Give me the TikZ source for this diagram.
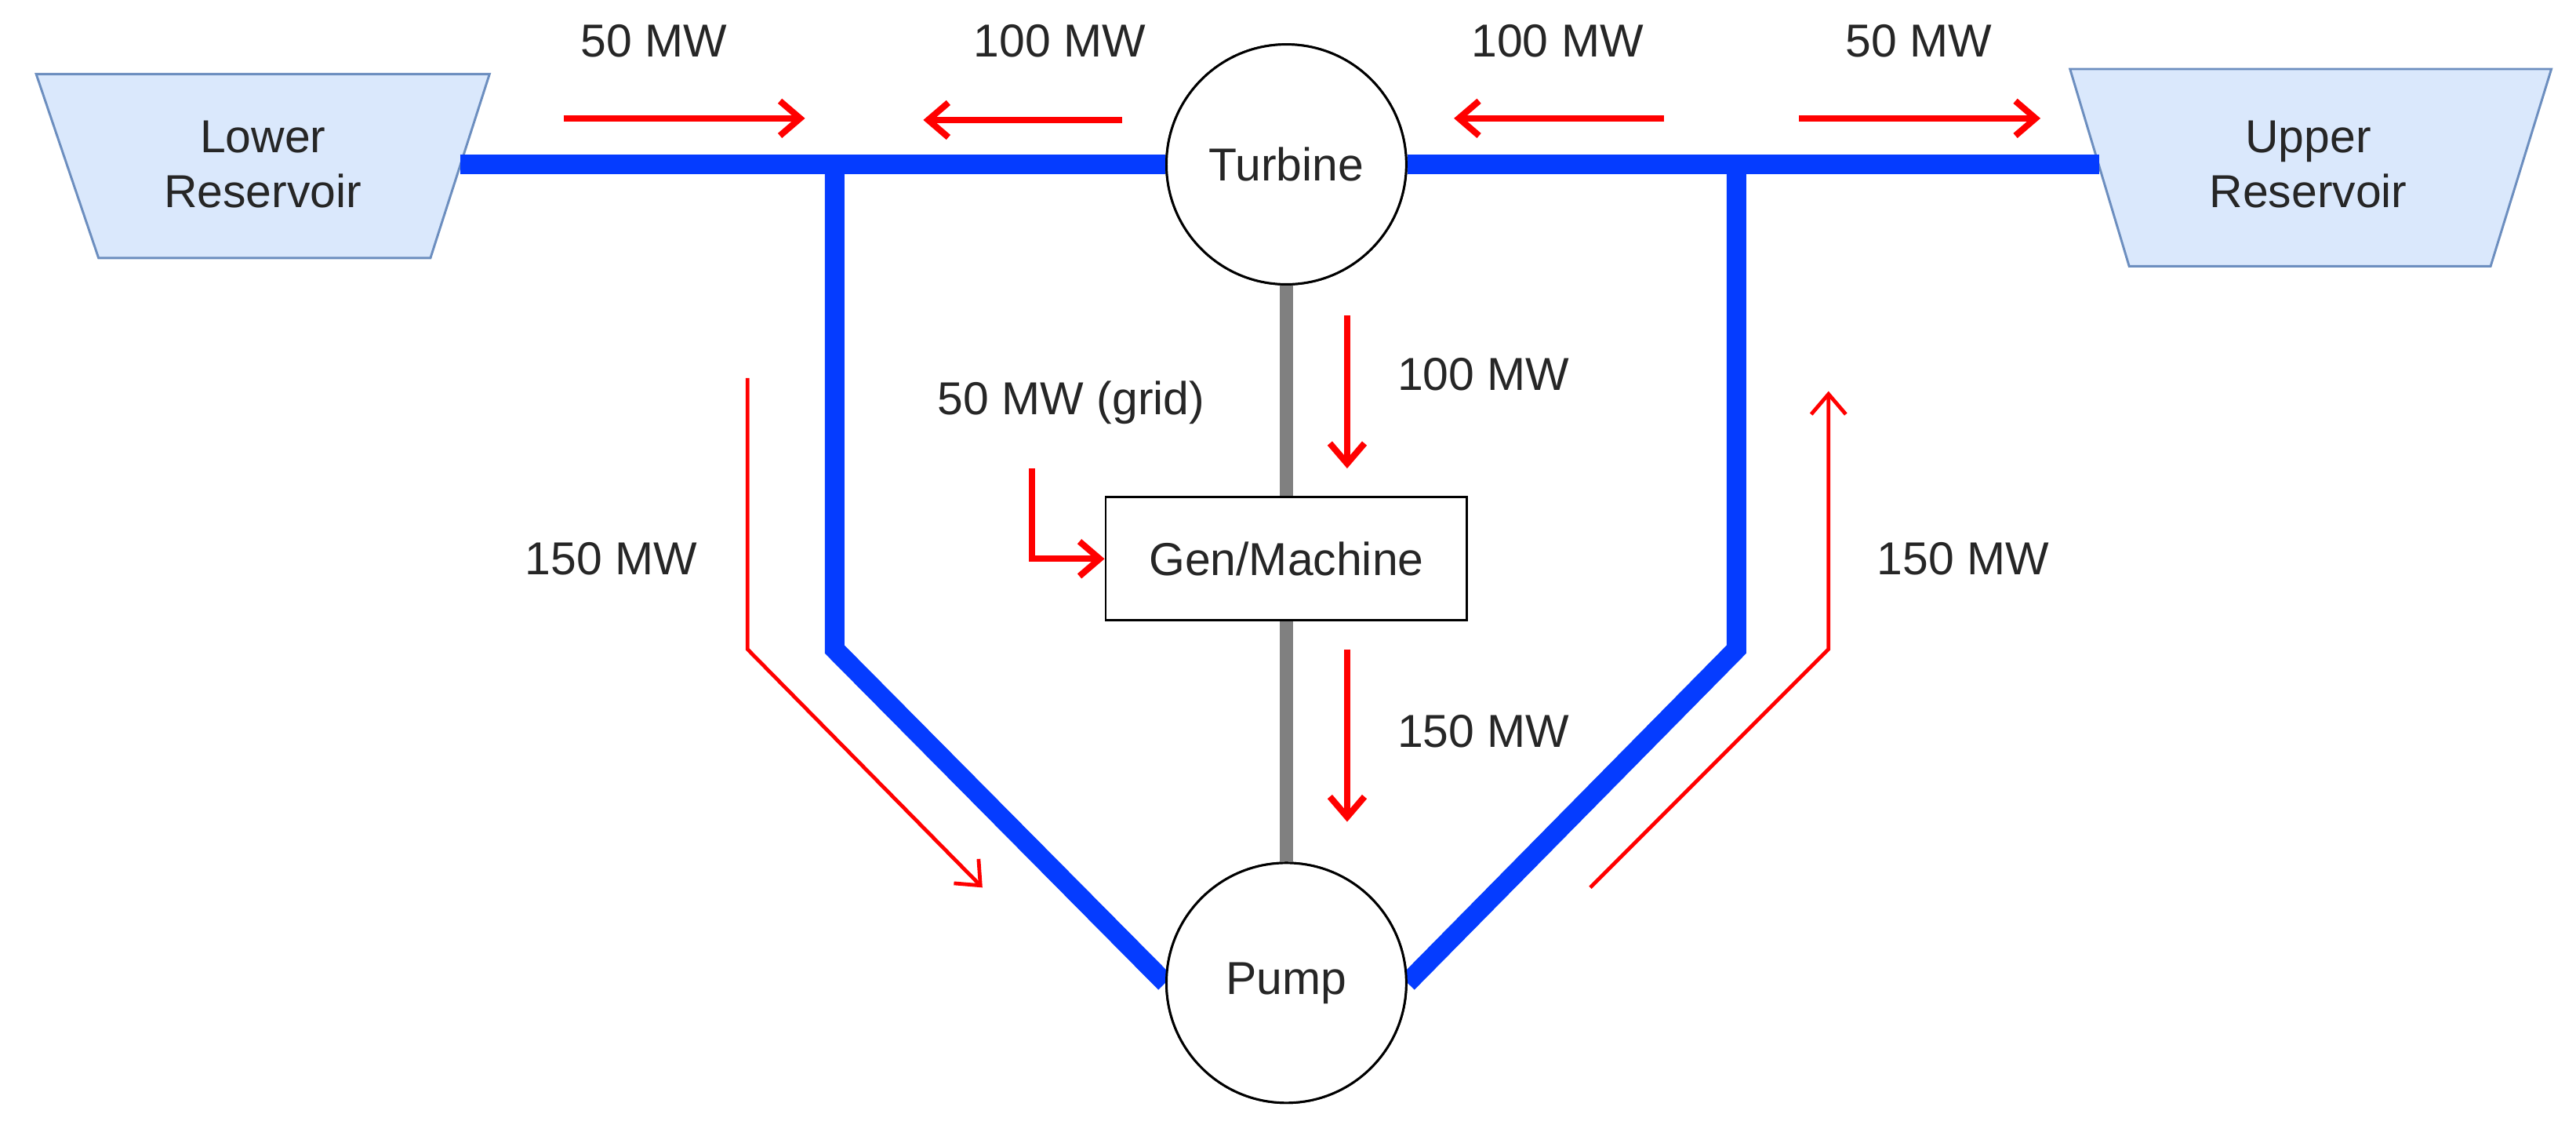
\documentclass[tikz,border=0pt]{standalone}
\usepackage{fontspec}
\setmainfont{Liberation Sans}
\usetikzlibrary{calc,arrows.meta}
\definecolor{pipe}{RGB}{5,60,255}
\definecolor{resfill}{RGB}{218,232,252}
\definecolor{resline}{RGB}{108,142,191}
\begin{document}
\begin{tikzpicture}[x=0.02cm,y=-0.02cm,
  lbl/.style={font=\fontsize{16}{19}\selectfont,text=black!85},
  pipeline/.style={pipe,line width=6.8pt},
  shaft/.style={gray,line width=4.5pt},
  flow/.style={red,line width=2.2pt,-{Straight Barb[length=7pt,width=12pt]}},
  thinflow/.style={red,line width=1.3pt,-{Straight Barb[length=7pt,width=12pt]}},
  mach/.style={circle,draw,thick,fill=white,minimum size=2.92cm,inner sep=0pt}]
\useasboundingbox (0,0) rectangle (1568,684);

% reservoirs
\draw[resline,fill=resfill,thick] (22,45) -- (298,45) -- (262,157) -- (60,157) -- cycle;
\node[lbl,align=center] (lower) at (160,100) {Lower\\Reservoir};
\draw[resline,fill=resfill,thick] (1260,42) -- (1553,42) -- (1516,162) -- (1296,162) -- cycle;
\node[lbl,align=center] (upper) at (1405,100) {Upper\\Reservoir};

% junctions
\coordinate (lj) at (508,100);
\coordinate (lk) at (508,395);
\coordinate (rj) at (1057,100);
\coordinate (rk) at (1057,395);
\coordinate (lend) at (280,100);
\coordinate (rend) at (1278,100);

% pipes
\node[mach] (turb) at (783,100) {};
\node[mach] (pump) at (783,598) {};
\draw[pipeline] (lend) -- (turb.west);
\draw[pipeline] (turb.east) -- (rend);
\draw[pipeline] (lj) -- (lk) -- (pump.west);
\draw[pipeline] (rj) -- (rk) -- (pump.east);
\draw[shaft] (turb.south) -- (pump.north);

\node[mach,lbl] at (turb) {Turbine};
\node[mach,lbl] at (pump) {Pump};
\node[lbl,draw,thick,fill=white,minimum width=4.4cm,minimum height=1.5cm] (gen) at (783,340) {Gen/Machine};

% flows along top pipe
\coordinate (a1) at (343,72); \coordinate (a2) at (490,72);
\coordinate (b1) at (683,73); \coordinate (b2) at (562,73);
\coordinate (c1) at (1013,72); \coordinate (c2) at (885,72);
\coordinate (d1) at (1095,72); \coordinate (d2) at (1242,72);
\draw[flow] (a1) -- (a2);
\draw[flow] (b1) -- (b2);
\draw[flow] (c1) -- (c2);
\draw[flow] (d1) -- (d2);
\node[lbl] (ta) at (398,25) {50 MW};
\node[lbl] (tb) at (645,25) {100 MW};
\node[lbl] (tc) at (948,25) {100 MW};
\node[lbl] (td) at (1168,25) {50 MW};

% shaft flows
\coordinate (e1) at (820,192); \coordinate (e2) at (820,285);
\coordinate (f1) at (820,395); \coordinate (f2) at (820,500);
\draw[flow] (e1) -- (e2);
\draw[flow] (f1) -- (f2);
\node[lbl] (te) at (903,228) {100 MW};
\node[lbl] (tf) at (903,445) {150 MW};

% grid input
\coordinate (g1) at (628,285);
\draw[flow] (g1) |- (gen.west);
\node[lbl] (tg) at (652,245) {50 MW (grid)};

% side flows
\coordinate (h1) at (455,230); \coordinate (h2) at (455,395); \coordinate (h3) at (598,540);
\draw[thinflow] (h1) -- (h2) -- (h3);
\node[lbl] (th) at (372,340) {150 MW};
\coordinate (i1) at (968,540); \coordinate (i2) at (1113,395); \coordinate (i3) at (1113,238);
\draw[thinflow] (i1) -- (i2) -- (i3);
\node[lbl] (ti) at (1195,340) {150 MW};
\end{tikzpicture}
\end{document}
